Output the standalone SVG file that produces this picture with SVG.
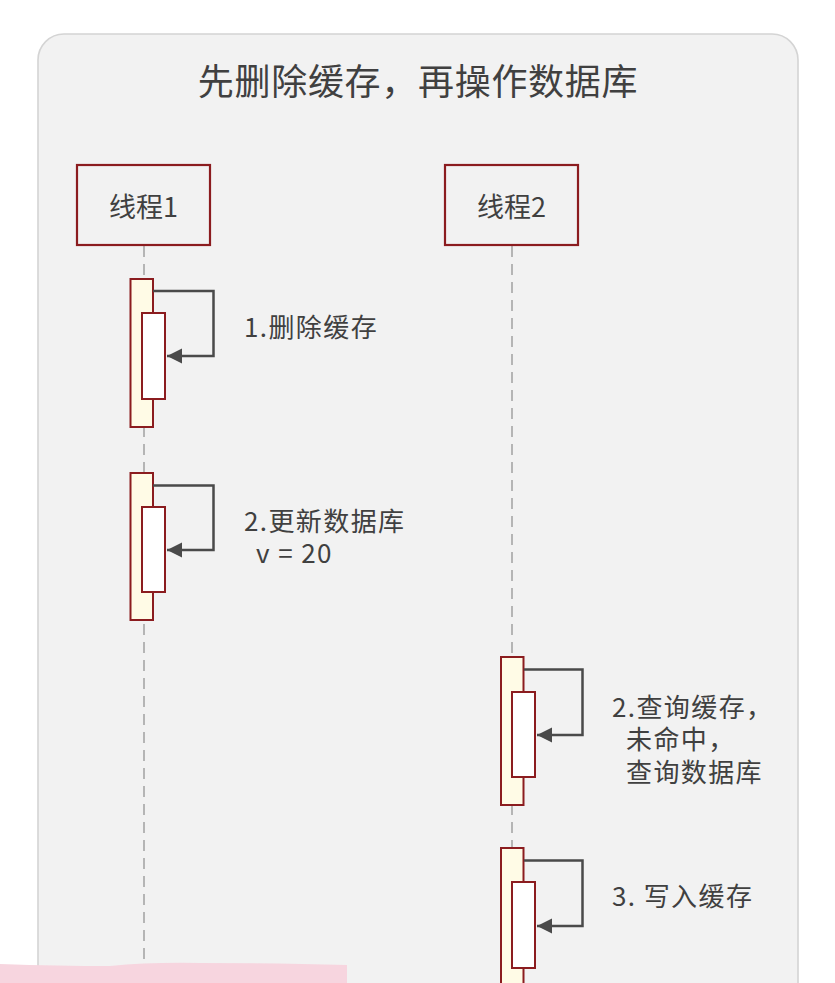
<svg xmlns="http://www.w3.org/2000/svg" width="835" height="983" viewBox="0 0 835 983">
  <defs>
    <style>
      .txt { font-family: "Noto Sans CJK SC", "Noto Sans", "Liberation Sans", sans-serif; fill: #404040; }
      .lbl { font-size: 26px; letter-spacing: 1.4px; }
      .thread { fill: none; stroke: #8b1c1f; stroke-width: 2.2; }
      .life { stroke: #b5b5b5; stroke-width: 2; stroke-dasharray: 11 7; fill: none; }
      .outer { fill: #fffbe6; stroke: #8b1c1f; stroke-width: 2; }
      .inner { fill: #ffffff; stroke: #8b1c1f; stroke-width: 2; }
      .msg { fill: none; stroke: #4a4a4a; stroke-width: 2.5; }
    </style>
    <marker id="arr" markerUnits="userSpaceOnUse" markerWidth="16" markerHeight="16" refX="15" refY="8" orient="auto">
      <polygon points="0,0.5 15,8 0,15.5" fill="#4a4a4a"/>
    </marker>
  </defs>

  <rect x="0" y="0" width="835" height="983" fill="#ffffff"/>
  <!-- panel -->
  <rect x="38" y="34" width="760" height="1000" rx="26" ry="26" fill="#f2f2f2" stroke="#d4d4d4" stroke-width="1.6"/>

  <text class="txt" x="418" y="95" font-size="36" letter-spacing="0.7" text-anchor="middle">先删除缓存，再操作数据库</text>

  <!-- lifelines -->
  <g id="lifelines">
    <line class="life" x1="144" y1="246" x2="144" y2="983"/>
    <line class="life" x1="512" y1="246" x2="512" y2="983"/>
  </g>

  <g id="thread1">
    <rect class="thread" x="77" y="165" width="133" height="80"/>
    <text class="txt" x="143.5" y="217" font-size="27" text-anchor="middle">线程1</text>
  </g>
  <g id="thread2">
    <rect class="thread" x="445" y="165" width="133" height="80"/>
    <text class="txt" x="511.5" y="217" font-size="27" text-anchor="middle">线程2</text>
  </g>

  <g id="act1">
    <rect class="outer" x="130.5" y="279" width="22.5" height="148"/>
    <rect class="inner" x="142" y="313" width="23" height="86"/>
  </g>
  <g id="act2">
    <rect class="outer" x="130.5" y="473" width="22.5" height="147"/>
    <rect class="inner" x="142" y="507" width="23" height="85"/>
  </g>
  <g id="act3">
    <rect class="outer" x="501" y="657" width="22.5" height="148"/>
    <rect class="inner" x="512" y="692" width="23" height="85"/>
  </g>
  <g id="act4">
    <rect class="outer" x="501" y="848" width="22.5" height="160"/>
    <rect class="inner" x="512" y="882" width="23" height="86"/>
  </g>

  <g id="connectors">
    <path class="msg" d="M153,291 H213.5 V356 H167" marker-end="url(#arr)"/>
    <path class="msg" d="M153,485.5 H213.5 V550 H167" marker-end="url(#arr)"/>
    <path class="msg" d="M524,669.5 H582.5 V735 H537" marker-end="url(#arr)"/>
    <path class="msg" d="M524,860.5 H582.5 V926 H537" marker-end="url(#arr)"/>
  </g>

  <g id="labels">
    <text class="txt lbl" x="244" y="337">1.删除缓存</text>
    <text class="txt lbl" x="244" y="531">2.更新数据库<tspan x="256" y="563">v = 20</tspan></text>
    <text class="txt lbl" x="612" y="717">2.查询缓存，<tspan x="626" y="749">未命中，</tspan><tspan x="626" y="782">查询数据库</tspan></text>
    <text class="txt lbl" x="612" y="906">3. 写入缓存</text>
  </g>

  <path d="M0,964 Q60,966 110,966 Q150,962 200,963 Q280,963 347,965 V983 H0 Z" fill="#f7d5df"/>
</svg>
